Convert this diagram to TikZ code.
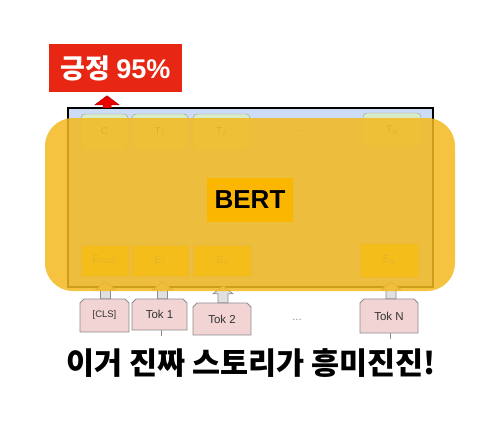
\documentclass[tikz,border=0pt]{standalone}
\usepackage{fontspec}
\setmainfont{Liberation Sans}
\newfontfamily\kr{Noto Sans CJK KR}
\usetikzlibrary{calc}
\definecolor{tgreen}{RGB}{215,235,200}
\definecolor{ebg}{RGB}{255,215,0}
\definecolor{bluebg}{RGB}{205,220,245}
\definecolor{ovl}{RGB}{243,185,30}
\definecolor{bertbg}{RGB}{250,182,0}
\definecolor{redlab}{RGB}{232,38,20}
\definecolor{tokpink}{RGB}{242,212,212}
\definecolor{redarr}{RGB}{235,0,0}
\begin{document}
\begin{tikzpicture}[x=1pt,y=-1pt,
  tbox/.style={draw=black!40, fill=tgreen, rounded corners=4pt, inner sep=0pt,
    text=black!55, font=\fontsize{10}{12}\selectfont},
  ebox/.style={draw=black!25, fill=ebg, inner sep=0pt,
    text=black!45, font=\fontsize{10}{12}\selectfont},
  tokbox/.style={inner sep=0pt, text=black!80, font=\fontsize{11.5}{13}\selectfont},
  tokline/.style={draw=black!45, line width=0.8pt, fill=tokpink},
  dotlab/.style={text=black!45, font=\fontsize{11}{12}\selectfont},
  blk/.style={draw=black!45, fill=black!12, line width=0.7pt},
]
\useasboundingbox (0,0) rectangle (484,421);

% underlying BERT diagram
\draw[black, line width=1.2pt, fill=bluebg] (68,108) rectangle (433,287);

\node[tbox, minimum width=47, minimum height=35] (c)  at (104.5,131.5) {C};
\node[tbox, minimum width=56, minimum height=35] (t1) at (160,131.5) {T$_1$};
\node[tbox, minimum width=57, minimum height=35] (t2) at (221.5,131.5) {T$_2$};
\node[dotlab] (td) at (297,131) {...};
\node[tbox, minimum width=58, minimum height=34] (tn) at (392,130) {T$_{\mathrm{N}}$};

\node[ebox, minimum width=48, minimum height=31] (e0) at (105,260.5) {E$_{\mathrm{[CLS]}}$};
\node[ebox, minimum width=56, minimum height=31] (e1) at (160,260.5) {E$_1$};
\node[ebox, minimum width=58, minimum height=31] (e2) at (222,260.5) {E$_2$};
\node[dotlab] (ed) at (297,260) {...};
\node[ebox, minimum width=58, minimum height=34] (en) at (389,260) {E$_{\mathrm{N}}$};

% token outlines (top corners cut)
\foreach \x/\y/\w/\h in {104.5/315.5/49/33, 159.5/314.5/55/31, 222/319/58/32, 389/316/58/34}{
  \draw[tokline] ({\x-\w/2},{\y+\h/2}) -- ({\x-\w/2},{\y-\h/2+4}) -- ({\x-\w/2+4},{\y-\h/2})
    -- ({\x+\w/2-4},{\y-\h/2}) -- ({\x+\w/2},{\y-\h/2+4}) -- ({\x+\w/2},{\y+\h/2}) -- cycle;
}
\node[tokbox, minimum width=49, minimum height=33, font=\fontsize{9.5}{11}\selectfont] (k0) at (104.5,315.5) {[CLS]};
\node[tokbox, minimum width=55, minimum height=31] (k1) at (159.5,314.5) {Tok 1};
\node[tokbox, minimum width=58, minimum height=32] (k2) at (222,319) {Tok 2};
\node[dotlab] (kd) at (297,320) {...};
\node[tokbox, minimum width=58, minimum height=34] (kn) at (389,316) {Tok N};

\draw[black!45, line width=0.8pt] (k1.south) ++(2,0) -- ++(0,6);
\draw[black!45, line width=0.8pt] (kn.south) ++(1,0) -- ++(0,6);

% block arrows token -> embedding
\foreach \k/\dx in {k0/1,k1/3,k2/1,kn/2}{
  \draw[blk] ($(\k.north)+(\dx,0)$) ++(-5,0) -- ++(0,-9) -- ++(-5,0) -- ++(10,-8)
     -- ++(10,8) -- ++(-5,0) -- ++(0,9) -- cycle;
}

% yellow overlay
\fill[ovl, opacity=0.85, rounded corners=28pt] (45,118) rectangle (455,291);

% BERT label
\node[fill=bertbg, minimum width=86, minimum height=44, inner sep=0pt,
  font=\bfseries\fontsize{26}{28}\selectfont] (bert) at (250,200) {BERT};

% output label and arrow
\node[fill=redlab, minimum width=133, minimum height=48, inner sep=0pt, text=white,
  font=\kr\bfseries\fontsize{27}{30}\selectfont] (out) at (115.5,68) {긍정 {\rmfamily\bfseries 95\%}};
\draw[draw=red!70!black, fill=redarr, line width=0.5pt] (c.north) ++(2.5,-6) ++(-4,0)
  -- ++(0,-3) -- ++(-8,0) -- ++(12,-9) -- ++(12,9) -- ++(-8,0) -- ++(0,3) -- cycle;

% caption
\node[font=\kr\bfseries\fontsize{30.5}{32}\selectfont] (cap) at (251,363) {이거 진짜 스토리가 흥미진진!};
\end{tikzpicture}
\end{document}
